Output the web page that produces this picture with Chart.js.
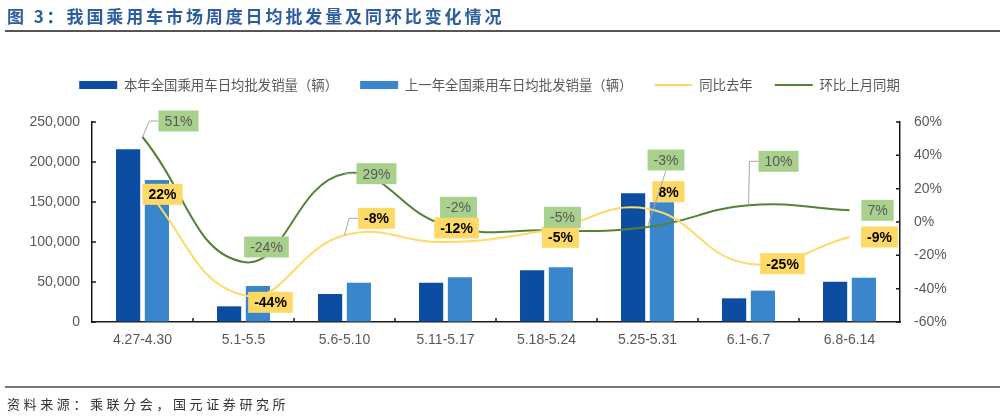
<!DOCTYPE html>
<html>
<head>
<meta charset="utf-8">
<script src="https://cdn.jsdelivr.net/npm/chart.js@4.4.1/dist/chart.umd.min.js"></script>
<style>
  html, body { margin: 0; padding: 0; background: #fff; }
  #wrap { position: relative; width: 1003px; height: 416px; overflow: hidden; }
  #chart { position: absolute; left: 0; top: 0; }
  #title { position: absolute; left: 7px; top: 7px; font: bold 17px "Noto Sans CJK SC"; line-height: 17px;
           color: #2c5d9e; letter-spacing: 2.9px; white-space: nowrap; }
  #rule1 { position: absolute; left: 5px; right: 3px; top: 30px; height: 2px; background: #555; }
  #rule2 { position: absolute; left: 5px; right: 3px; top: 386px; height: 1.5px; background: #777; }
  #src { position: absolute; left: 7px; top: 397px; font: 13px "Noto Sans CJK SC"; line-height: 13px;
         color: #333; letter-spacing: 3.6px; white-space: nowrap; }
</style>
</head>
<body>
<div id="wrap">
  <canvas id="chart" width="1003" height="416"></canvas>
  <div id="title">图 3：我国乘用车市场周度日均批发量及同环比变化情况</div>
  <div id="rule1"></div>
  <div id="rule2"></div>
  <div id="src">资料来源：乘联分会，国元证券研究所</div>
</div>
<script>
// data
const weeks = ['4.27-4.30', '5.1-5.5', '5.6-5.10', '5.11-5.17', '5.18-5.24', '5.25-5.31', '6.1-6.7', '6.8-6.14'];
const thisYear = [216000, 19600, 35000, 49000, 64600, 160800, 29600, 50400];
const lastYear = [177500, 45000, 49000, 55800, 68300, 149600, 39200, 55400];
const yoy = [22, -44, -8, -12, -5, 8, -25, -9];     // 同比去年, %
const mom = [51, -24, 29, -2, -5, -3, 10, 7];       // 环比上月同期, %
const leftTicks = [0, 50000, 100000, 150000, 200000, 250000];
const rightTicks = [-60, -40, -20, 0, 20, 40, 60];

// where the value boxes sit relative to their point (dx, dy, leader)
const yoyBoxes = [[20, 9], [27, 7], [32, -17, 'elbow'], [11, -14], [14, 7], [21, -17], [34, 0], [30, 0]];
const momBoxes = [[36, -16, 'elbow'], [23, -15], [32, 0, 'elbow'], [13, -18], [16, -13], [18.5, -67, 'straight'], [30, -44, 'elbow'], [28, 0]];

const numFont = '"Liberation Sans", Arial, sans-serif';
const grey = '#595959';

// value boxes on the two lines
const boxLabels = {
  id: 'boxLabels',
  afterDatasetsDraw(chart) {
    const ctx = chart.ctx;
    const sets = [
      { idx: 2, vals: yoy, pos: yoyBoxes, bg: '#FFD966', fg: '#000', weight: 'bold' },
      { idx: 3, vals: mom, pos: momBoxes, bg: '#A9D18E', fg: '#595959', weight: 'normal' }
    ];
    ctx.save();
    sets.forEach(s => {
      const meta = chart.getDatasetMeta(s.idx);
      ctx.font = s.weight + ' 14px ' + numFont;
      meta.data.forEach((pt, i) => {
        const txt = s.vals[i] + '%';
        const w = ctx.measureText(txt).width + 12, h = 21;
        const p = s.pos[i];
        const cx = pt.x + p[0], cy = pt.y + p[1];
        if (p[2]) {
          ctx.strokeStyle = '#A6A6A6';
          ctx.lineWidth = 1;
          ctx.beginPath();
          ctx.moveTo(pt.x, pt.y);
          if (p[2] == 'elbow') {
            ctx.lineTo(cx - w / 2 - 9, cy);
            ctx.lineTo(cx - w / 2, cy);
          } else {
            ctx.lineTo(cx, cy + h / 2);
          }
          ctx.stroke();
        }
        ctx.fillStyle = s.bg;
        ctx.fillRect(cx - w / 2, cy - h / 2, w, h);
        ctx.fillStyle = s.fg;
        ctx.textAlign = 'center';
        ctx.textBaseline = 'middle';
        ctx.fillText(txt, cx, cy + 1);
      });
    });
    ctx.restore();
  }
};

// short tick marks pointing into the plot
const innerTicks = {
  id: 'innerTicks',
  afterDraw(chart) {
    const ctx = chart.ctx;
    const { x, y, y1 } = chart.scales;
    ctx.save();
    ctx.strokeStyle = '#1a1a1a';
    ctx.lineWidth = 1.5;
    ctx.beginPath();
    leftTicks.forEach(v => {
      const py = y.getPixelForValue(v);
      ctx.moveTo(x.left, py); ctx.lineTo(x.left + 4, py);
    });
    rightTicks.forEach(v => {
      const py = y1.getPixelForValue(v);
      ctx.moveTo(x.right, py); ctx.lineTo(x.right - 4, py);
    });
    for (let i = 1; i < weeks.length; i++) {
      const px = (x.getPixelForValue(i - 1) + x.getPixelForValue(i)) / 2;
      ctx.moveTo(px, x.top); ctx.lineTo(px, x.top - 4);
    }
    ctx.stroke();
    ctx.restore();
  }
};

// extra room between legend and plot
const legendGap = {
  id: 'legendGap',
  beforeInit(chart) {
    const fit = chart.legend.fit;
    chart.legend.fit = function () {
      fit.bind(chart.legend)();
      this.height += 20.3;
    };
  }
};

new Chart(document.getElementById('chart'), {
  data: {
    labels: weeks,
    datasets: [
      {
        type: 'bar', label: '本年全国乘用车日均批发销量（辆）', data: thisYear, yAxisID: 'y',
        backgroundColor: '#0C4DA2', borderWidth: 0, pointStyle: 'rect',
        categoryPercentage: 0.57, barPercentage: 0.84
      },
      {
        type: 'bar', label: '上一年全国乘用车日均批发销量（辆）', data: lastYear, yAxisID: 'y',
        backgroundColor: '#3A86CC', borderWidth: 0, pointStyle: 'rect',
        categoryPercentage: 0.57, barPercentage: 0.84
      },
      {
        type: 'line', label: '同比去年', data: yoy, yAxisID: 'y1', order: -1,
        borderColor: '#FFD966', backgroundColor: '#FFD966', borderWidth: 2,
        pointRadius: 0, pointStyle: 'line', tension: 0.45
      },
      {
        type: 'line', label: '环比上月同期', data: mom, yAxisID: 'y1', order: -1,
        borderColor: '#548235', backgroundColor: '#548235', borderWidth: 2,
        pointRadius: 0, pointStyle: 'line', tension: 0.45
      }
    ]
  },
  options: {
    responsive: false,
    animation: false,
    layout: { padding: { top: 56.3, right: 24, left: 0, bottom: 0 } },
    plugins: {
      tooltip: { enabled: false },
      legend: {
        position: 'top',
        labels: {
          usePointStyle: true, pointStyleWidth: 38, boxHeight: 8, padding: 22,
          color: grey, font: { family: '"Noto Sans CJK SC"', size: 13.4 },
          sort: (a, b) => a.datasetIndex - b.datasetIndex
        }
      }
    },
    scales: {
      x: {
        grid: { display: true, drawOnChartArea: false, drawTicks: false },
        border: { color: '#1a1a1a', width: 1.5 },
        ticks: { color: grey, font: { family: numFont, size: 14 }, padding: 10, maxRotation: 0 },
        afterFit(scale) { scale.height = 94; }
      },
      y: {
        position: 'left', min: 0, max: 250000,
        grid: { display: true, drawOnChartArea: false, drawTicks: false },
        border: { color: '#1a1a1a', width: 1.5 },
        ticks: {
          stepSize: 50000, padding: 12, color: grey, font: { family: numFont, size: 14 },
          callback: v => v.toLocaleString('en-US')
        },
        afterFit(scale) { scale.width = 92; }
      },
      y1: {
        position: 'right', min: -60, max: 60,
        grid: { display: true, drawOnChartArea: false, drawTicks: false },
        border: { color: '#1a1a1a', width: 1.5 },
        ticks: {
          stepSize: 20, padding: 14, color: grey, font: { family: numFont, size: 14 },
          callback: v => v + '%'
        },
        afterFit(scale) { scale.width = 79; }
      }
    }
  },
  plugins: [legendGap, boxLabels, innerTicks]
});
</script>
</body>
</html>
